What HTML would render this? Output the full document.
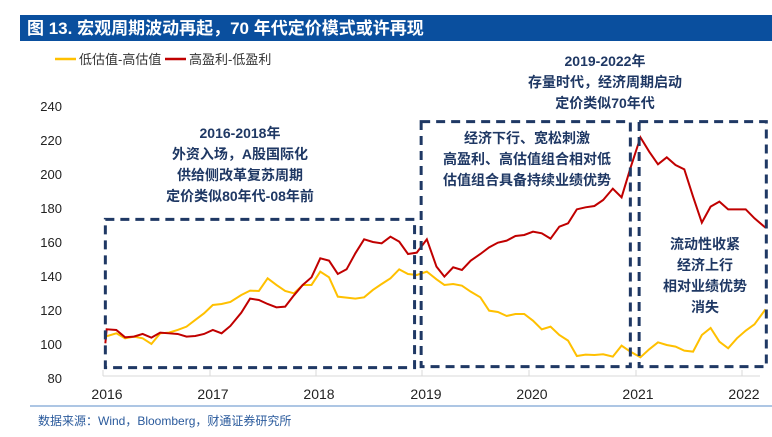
<!DOCTYPE html>
<html><head><meta charset="utf-8"><style>
body{margin:0;width:772px;height:432px;background:#fff;overflow:hidden;font-family:"Liberation Sans","Noto Sans CJK SC",sans-serif}
</style></head><body>
<svg width="772" height="432" viewBox="0 0 772 432" xmlns="http://www.w3.org/2000/svg" font-family="Liberation Sans, Noto Sans CJK SC, sans-serif">
<rect x="20" y="15" width="752" height="26" fill="#0a4f9e"/>
<text x="27" y="34" fill="#fff" font-size="17" font-weight="bold">图 13. 宏观周期波动再起，70 年代定价模式或许再现</text>
<line x1="55" y1="59" x2="76" y2="59" stroke="#ffc000" stroke-width="2.5"/>
<text x="79" y="64" font-size="13" fill="#333">低估值-高估值</text>
<line x1="165" y1="59" x2="186" y2="59" stroke="#c00000" stroke-width="2.5"/>
<text x="189" y="64" font-size="13" fill="#333">高盈利-低盈利</text>
<g font-size="13" fill="#222" text-anchor="end">
<text x="62" y="111">240</text><text x="62" y="145">220</text><text x="62" y="179">200</text><text x="62" y="213">180</text><text x="62" y="247">160</text><text x="62" y="281">140</text><text x="62" y="315">120</text><text x="62" y="349">100</text><text x="62" y="383">80</text>
</g>
<line x1="103" y1="376" x2="760" y2="376" stroke="#d9d9d9" stroke-width="1"/>
<g stroke="#d9d9d9"><line x1="103" y1="370" x2="103" y2="376"/><line x1="210" y1="370" x2="210" y2="376"/><line x1="316" y1="370" x2="316" y2="376"/><line x1="422" y1="370" x2="422" y2="376"/><line x1="529" y1="370" x2="529" y2="376"/><line x1="636" y1="370" x2="636" y2="376"/><line x1="742" y1="370" x2="742" y2="376"/></g>
<g font-size="14" fill="#222" text-anchor="middle">
<text x="107" y="399">2016</text><text x="213" y="399">2017</text><text x="319" y="399">2018</text><text x="426" y="399">2019</text><text x="532" y="399">2020</text><text x="638" y="399">2021</text><text x="744" y="399">2022</text>
</g>
<g transform="translate(90,100) scale(0.4386,0.3333)" fill="none">
<polyline vector-effect="non-scaling-stroke" stroke="#ffc000" stroke-width="2" points="35,710 60,700 80,715 100,710 120,715 140,732 160,700 180,698 200,690 220,680 240,660 260,640 280,615 300,612 320,606 345,585 365,572 385,573 405,535 425,555 445,573 465,580 485,555 505,555 525,515 545,532 565,590 585,593 605,596 625,592 645,570 665,552 685,535 705,508 725,522 745,525 768,515 790,538 808,555 828,552 848,557 868,575 890,592 910,632 930,636 950,648 970,642 990,642 1010,662 1030,688 1050,680 1070,705 1090,722 1110,768 1130,764 1150,765 1170,763 1192,770 1212,737 1232,755 1255,772 1275,748 1295,727 1315,735 1335,740 1355,752 1375,755 1395,705 1415,684 1435,725 1455,745 1475,715 1495,692 1515,673 1540,628"/>
<polyline vector-effect="non-scaling-stroke" stroke="#c00000" stroke-width="2" points="35,730 38,688 60,690 80,712 100,710 120,702 140,713 160,698 180,700 200,702 220,710 240,708 260,702 280,690 300,700 320,678 345,638 365,596 385,600 405,612 425,622 445,620 465,586 485,555 505,532 525,475 545,482 565,522 585,508 605,460 625,418 645,426 665,430 685,410 705,425 725,462 745,458 768,418 790,500 808,530 828,502 848,510 868,482 890,462 910,442 930,428 950,422 970,408 990,405 1010,395 1030,400 1050,416 1070,380 1090,370 1110,328 1130,322 1150,318 1170,300 1192,266 1212,292 1232,205 1255,112 1275,155 1295,193 1315,172 1335,195 1355,208 1375,290 1395,368 1415,320 1435,305 1455,328 1475,328 1495,328 1515,355 1540,383"/>
<g stroke="#1f3864" stroke-width="3" stroke-dasharray="9,6" vector-effect="non-scaling-stroke">
<rect vector-effect="non-scaling-stroke" x="35" y="358" width="705" height="445"/>
<rect vector-effect="non-scaling-stroke" x="755" y="65" width="477" height="735"/>
<rect vector-effect="non-scaling-stroke" x="1252" y="65" width="290" height="735"/>
</g>
</g>
<g font-size="14" font-weight="bold" fill="#1f3864" text-anchor="middle">
<text x="240" y="138">2016-2018年</text>
<text x="240" y="159">外资入场，A股国际化</text>
<text x="240" y="180">供给侧改革复苏周期</text>
<text x="240" y="201">定价类似80年代-08年前</text>
<text x="527" y="143">经济下行、宽松刺激</text>
<text x="527" y="164">高盈利、高估值组合相对低</text>
<text x="527" y="185">估值组合具备持续业绩优势</text>
<text x="705" y="249">流动性收紧</text>
<text x="705" y="270">经济上行</text>
<text x="705" y="291">相对业绩优势</text>
<text x="705" y="312">消失</text>
<text x="605" y="66">2019-2022年</text>
<text x="605" y="87">存量时代，经济周期启动</text>
<text x="605" y="108">定价类似70年代</text>
</g>
<line x1="30" y1="406" x2="772" y2="406" stroke="#5b8cc8" stroke-width="1"/>
<text x="38" y="425" font-size="12" fill="#2a5a9c">数据来源：Wind，Bloomberg，财通证券研究所</text>
</svg>
</body></html>
